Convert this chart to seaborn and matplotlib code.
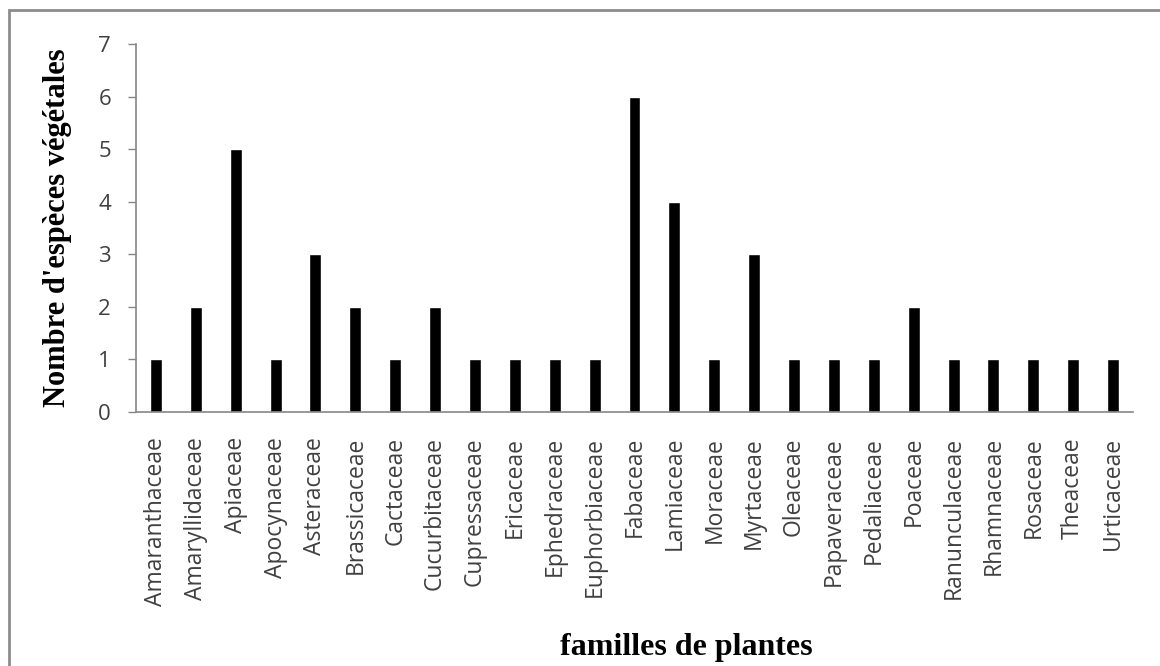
import seaborn as sns
import matplotlib.pyplot as plt
from matplotlib.patches import Rectangle

# Familles de plantes et nombre d'espèces végétales
familles = ["Amaranthaceae", "Amaryllidaceae", "Apiaceae", "Apocynaceae", "Asteraceae",
            "Brassicaceae", "Cactaceae", "Cucurbitaceae", "Cupressaceae", "Ericaceae",
            "Ephedraceae", "Euphorbiaceae", "Fabaceae", "Lamiaceae", "Moraceae",
            "Myrtaceae", "Oleaceae", "Papaveraceae", "Pedaliaceae", "Poaceae",
            "Ranunculaceae", "Rhamnaceae", "Rosaceae", "Theaceae", "Urticaceae"]
nb_especes = [1, 2, 5, 1, 3, 2, 1, 2, 1, 1, 1, 1, 6, 4, 1, 3, 1, 1, 1, 2, 1, 1, 1, 1, 1]
y_ticks = [0, 1, 2, 3, 4, 5, 6, 7]

sns.set_style("white")
plt.rcParams['font.family'] = ['Open Sans', 'DejaVu Sans']

fig = plt.figure(figsize=(11.6, 6.66), dpi=100)
ax = fig.add_axes([136 / 1160, 1 - 412 / 666, (1133 - 136) / 1160, (412 - 44) / 666])

sns.barplot(x=familles, y=nb_especes, color="black", saturation=1, width=0.3, ax=ax)

ax.set_ylim(0, 7)
ax.set_xlim(-0.5, len(familles) - 0.5)
ax.set_yticks(y_ticks)
ax.tick_params(axis='y', length=6, width=1, color='#868686', pad=12,
               labelsize=16, labelcolor='#404040', left=True)
ax.tick_params(axis='x', length=0, pad=18, labelsize=16.5, labelcolor='#404040',
               labelrotation=90)

for side in ['top', 'right']:
    ax.spines[side].set_visible(False)
for side in ['left', 'bottom']:
    ax.spines[side].set_color('#868686')
    ax.spines[side].set_linewidth(1.2)

ax.set_ylabel("Nombre d'espèces végétales", fontsize=22, fontweight='bold',
              family='Liberation Serif', color='black')
ax.set_xlabel("familles de plantes", fontsize=23, fontweight='bold',
              family='Liberation Serif', color='black')
ax.yaxis.set_label_coords(-0.064, 0.5)
ax.xaxis.set_label_coords(0.552, -0.60)

# cadre gris autour du graphique
fig.patches.append(Rectangle((9 / 1160, -0.1), 1.2, 1 - 10 / 666 + 0.1,
                             transform=fig.transFigure, fill=False,
                             edgecolor='#8c8c8c', linewidth=2))

plt.savefig("out.png", dpi=100)
